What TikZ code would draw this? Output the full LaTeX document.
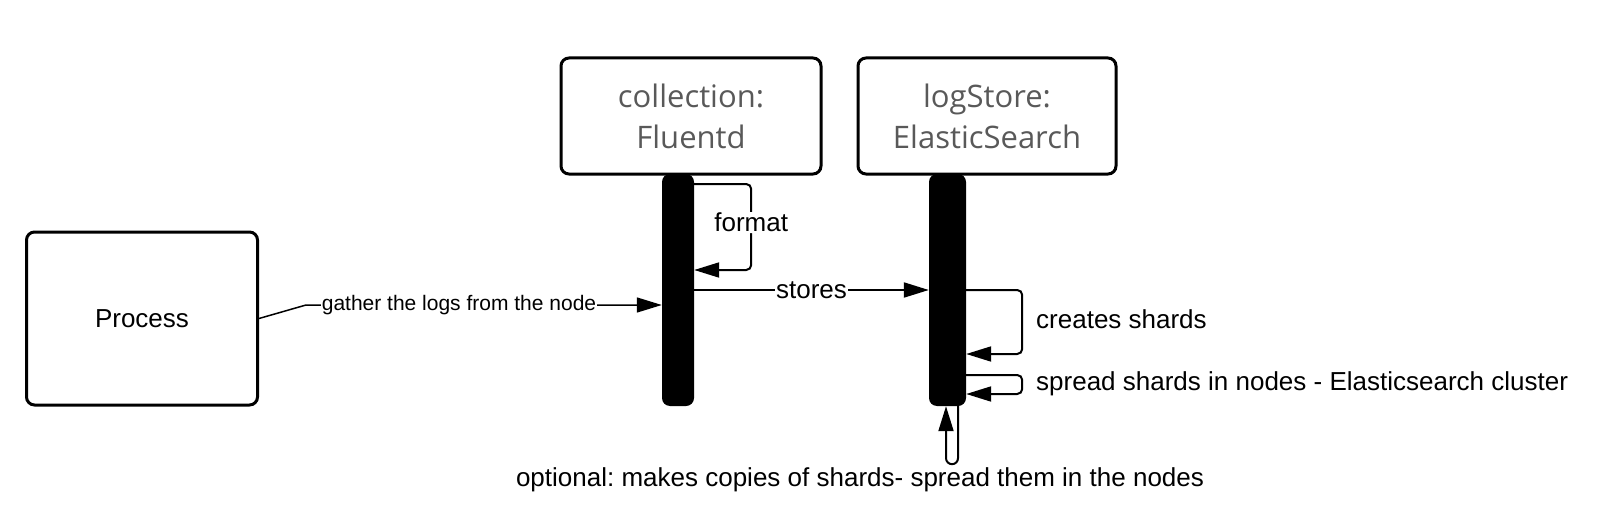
\documentclass[tikz,border=0pt]{standalone}
\usepackage{fontspec}
\setmainfont{Liberation Sans}
\newfontfamily\headfont{Open Sans}
\usetikzlibrary{arrows.meta, positioning}
\frenchspacing

\begin{document}
\begin{tikzpicture}[x=1pt, y=-1pt, >={Triangle[length=25pt, width=15pt]},
        box/.style={draw, line width=3pt, rounded corners=8pt, inner sep=0pt},
        head/.style={box, minimum height=116pt, align=center, text=black!65,
            font=\headfont\fontsize{31}{41}\selectfont},
        bar/.style={fill=black, rounded corners=8pt, inner sep=0pt, minimum height=232pt},
        msg/.style={->, line width=2pt, rounded corners=5pt},
        lbl/.style={fill=white, inner sep=1pt, font=\fontsize{26}{30}\selectfont},
        note/.style={inner sep=0pt, font=\fontsize{26}{30}\selectfont}]
        \useasboundingbox (0,0) rectangle (1602,516);

        \node[box, minimum width=231pt, minimum height=173pt, font=\fontsize{26}{30}\selectfont] (process) at (142,318.5) {Process};
        \node[head, minimum width=260pt] (collect) at (691,116) {collection:\\Fluentd};
        \node[head, minimum width=258pt] (store) at (987,116) {logStore:\\ElasticSearch};
        \node[bar, minimum width=32pt] (fbar) at (678,290) {};
        \node[bar, minimum width=37pt] (ebar) at (947.5,290) {};

        \coordinate (gbend) at (306,305);
        \draw[msg, line width=1.5pt, rounded corners=0pt] (process.east) -- (gbend)
            -- node[lbl, pos=0.43, font=\fontsize{21}{24}\selectfont] {gather the logs from the node} (gbend -| fbar.west);

        \draw[msg] (fbar.east |- 0,184) -- ++(57,0) -- node[lbl, pos=0.45] {format} ++(0,86) -- (fbar.east |- 0,270);
        \draw[msg] (fbar.east |- 0,290) -- node[lbl] {stores} (ebar.west |- 0,290);

        \draw[msg] (ebar.east |- 0,290) -- ++(56,0) -- ++(0,64) -- (ebar.east |- 0,354);
        \node[note, anchor=west] (shards) at (1036,319) {creates shards};
        \draw[msg] (ebar.east |- 0,375) -- ++(56,0) -- ++(0,19) -- (ebar.east |- 0,394);
        \node[note, anchor=west] (spread) at (1036,384) {spread shards in nodes - Elasticsearch cluster};

        \draw[msg, rounded corners=6pt] ([xshift=10.5pt]ebar.south) -- ++(0,58) -- ++(-12,0) -- ([xshift=-1.5pt]ebar.south);
        \node[note] (copies) at (860,480) {optional: makes copies of shards- spread them in the nodes};
    \end{tikzpicture}
\end{document}
